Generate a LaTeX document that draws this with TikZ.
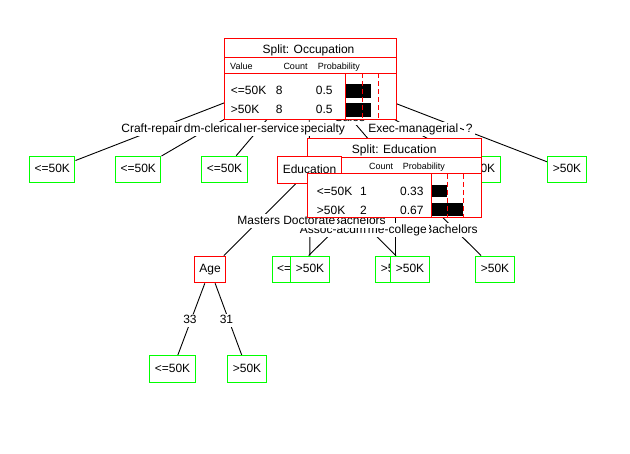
\documentclass[tikz,border=0pt]{standalone}
\usepackage{fontspec}
\setmainfont{Liberation Sans}
\usetikzlibrary{backgrounds}
\definecolor{leafgreen}{RGB}{0,255,0}
\definecolor{splitred}{RGB}{255,0,0}
\begin{document}
\begin{tikzpicture}[x=1pt,y=-1pt,
  font=\fontsize{12}{14}\selectfont,
  edge/.style={draw=black,line width=0.9pt},
  box/.style={draw,fill=white,line width=1pt,minimum height=26.7pt,inner xsep=5pt,inner ysep=0pt,text height=9pt,text depth=2.5pt},
  leaf/.style={box,draw=leafgreen},
  split/.style={box,draw=splitred},
  lbl/.style={fill=white,inner xsep=2pt,inner ysep=1pt,text height=9pt,text depth=2.5pt,anchor=base},
  frame/.style={draw=splitred,line width=1pt},
  axisline/.style={draw=splitred,line width=1pt},
  guide/.style={draw=splitred,line width=1pt,dash pattern=on 5pt off 3pt},
  cell/.style={inner sep=0pt,anchor=base west},
  headcell/.style={cell,font=\fontsize{9}{11}\selectfont},
  title/.style={inner sep=0pt,anchor=base},
  bar/.style={fill=black}
]
\useasboundingbox (0,0) rectangle (630,454);

% ---- tree nodes ----
\coordinate (root) at (309,70);
\coordinate (sub) at (395,170);
\node[leaf] (l1) at (52.3,169.5) {<=50K};
\node[leaf] (l2) at (138.3,169.5) {<=50K};
\node[leaf] (l3) at (224.5,169.5) {<=50K};
\node[leaf] (l6) at (481,169.5) {>50K};
\node[leaf] (l7) at (567,169.5) {>50K};
\node[split] (age) at (210,269.5) {Age};
\node[leaf] (h1) at (294.7,269.5) {<=50K};
\node[leaf] (h2) at (395,269.5) {>50K};
\node[leaf] (e2) at (310,269.5) {>50K};
\node[leaf] (e3) at (410,269.5) {>50K};
\node[leaf] (h3) at (495,269.5) {>50K};
\node[leaf] (a1) at (172.5,369.3) {<=50K};
\node[leaf] (a2) at (247,369.3) {>50K};

% ---- branch labels of the top split ----
\node[lbl] (tSales) at (350,122) {Sales};
\node[lbl] (tExec) at (413.3,132.3) {Exec-managerial};
\node[lbl] (tUnk) at (469.3,132.3) {?};
\node[lbl] (tProf) at (308.6,132.3) {Prof-specialty};
\node[lbl] (tOther) at (263,132.3) {Other-service};
\node[lbl] (tAdm) at (209,132.3) {Adm-clerical};
\node[lbl] (tCraft) at (151.7,132.3) {Craft-repair};

% ---- branch labels of the education splits ----
\node[lbl] (tBach2) at (451,233.3) {Bachelors};
\node[lbl] (tSome) at (390,233.3) {Some-college};
\node[lbl] (tAssoc) at (333,233.3) {Assoc-acdm};
\node[lbl] (tBach1) at (359,224.3) {Bachelors};
\node[lbl] (tDoc) at (309.3,224.3) {Doctorate};
\node[lbl] (tMast) at (258.7,224.3) {Masters};

% ---- branch labels of the age split ----
\node[lbl] (t33) at (190,324) {33};
\node[lbl] (t31) at (226.5,324) {31};

% ---- summary panel: Occupation ----
\filldraw[frame,fill=white] (224,38.5) rectangle (396.5,119.5);
\draw[frame] (224,57.7) -- (396.5,57.7);
\draw[frame] (224,73.3) -- (396.5,73.3);
\node[title] (occTitle) at (308.5,53.3) {Split: Occupation};
\node[headcell] (occH1) at (230,70) {Value};
\node[headcell] (occH2) at (283.3,70) {Count};
\node[headcell] (occH3) at (317.7,70) {Probability};
\node[cell] (occR1a) at (230.7,94.3) {<=50K};
\node[cell] (occR1b) at (275.7,94.3) {8};
\node[cell] (occR1c) at (315.7,94.3) {0.5};
\node[cell] (occR2a) at (230.7,113.3) {>50K};
\node[cell] (occR2b) at (275.7,113.3) {8};
\node[cell] (occR2c) at (315.7,113.3) {0.5};
\fill[bar] (345,83.7) rectangle (371,98.3);
\fill[bar] (345,102.7) rectangle (371,116.7);
\draw[axisline] (345,73.3) -- (345,119.5);
\draw[guide] (362.7,73.3) -- (362.7,119.5);
\draw[guide] (378.3,73.3) -- (378.3,119.5);

% ---- summary panel: Education (title and header) ----
\fill[white] (307.7,139) rectangle (481.7,174);
\draw[frame] (307.7,174) -- (307.7,139) -- (481.7,139) -- (481.7,174);
\draw[frame] (307.7,157.7) -- (481.7,157.7);
\node[title] (eduTitle) at (394.2,153.3) {Split: Education};
\node[headcell] (eduH1) at (313.7,170) {Value};
\node[headcell] (eduH2) at (369,170) {Count};
\node[headcell] (eduH3) at (402.7,170) {Probability};

% the Education split node sits over the panel header
\node[split] (edu) at (309.5,170) {Education};

% ---- summary panel: Education (rows) ----
\filldraw[frame,fill=white] (307.7,174) rectangle (481.7,218);
\node[cell] (eduR1a) at (316.7,196) {<=50K};
\node[cell] (eduR1b) at (360,196) {1};
\node[cell] (eduR1c) at (400,196) {0.33};
\node[cell] (eduR2a) at (316.7,214.3) {>50K};
\node[cell] (eduR2b) at (360,214.3) {2};
\node[cell] (eduR2c) at (400,214.3) {0.67};
\fill[bar] (431,185) rectangle (447.3,197.5);
\fill[bar] (431,203) rectangle (463.3,216);
\draw[axisline] (431,174) -- (431,218);
\draw[guide] (447.3,174) -- (447.3,218);
\draw[guide] (463.3,174) -- (463.3,218);

% ---- edges, behind everything ----
\begin{scope}[on background layer]
  \fill[white] (0,0) rectangle (630,454);
  \draw[edge] (root) -- (l1);
  \draw[edge] (root) -- (l2);
  \draw[edge] (root) -- (l3);
  \draw[edge] (root) -- (edu);
  \draw[edge] (root) -- (sub);
  \draw[edge] (root) -- (l6);
  \draw[edge] (root) -- (l7);
  \draw[edge] (edu) -- (age);
  \draw[edge] (edu) -- (e2);
  \draw[edge] (edu) -- (e3);
  \draw[edge] (sub) -- (h1);
  \draw[edge] (sub) -- (h2);
  \draw[edge] (sub) -- (h3);
  \draw[edge] (age) -- (a1);
  \draw[edge] (age) -- (a2);
\end{scope}
\end{tikzpicture}
\end{document}
